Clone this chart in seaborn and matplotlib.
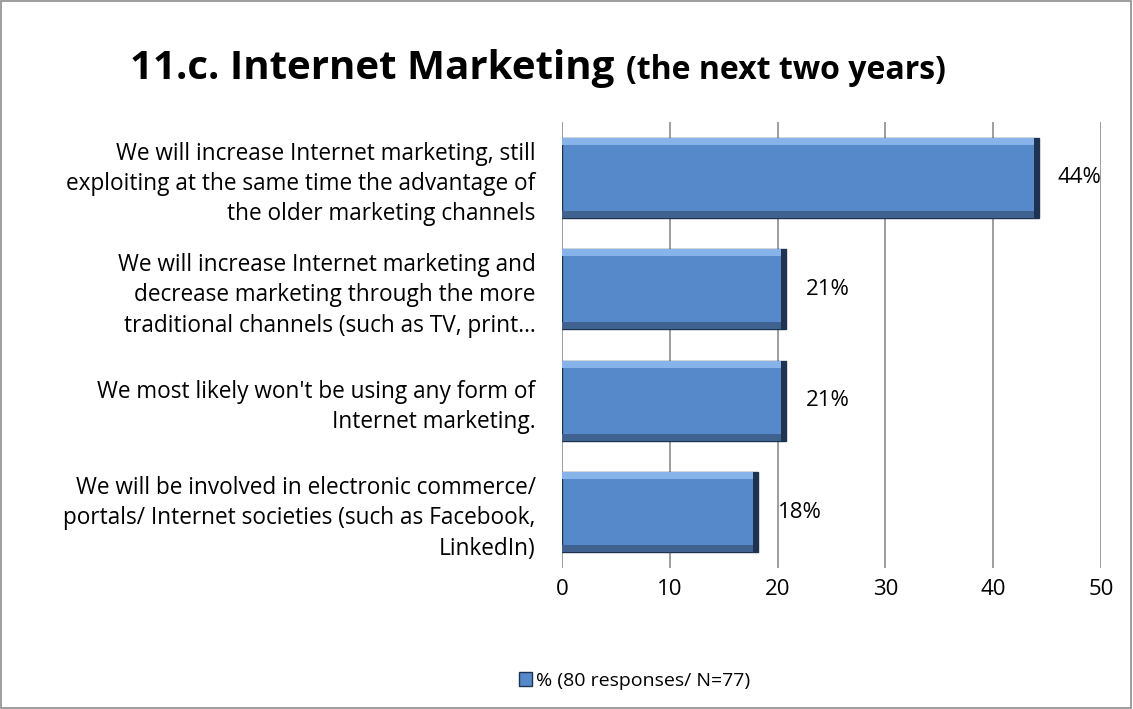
import pandas as pd
import matplotlib.pyplot as plt
import seaborn as sns
from matplotlib.patches import Rectangle

# data
answers = [
    "We will increase Internet marketing, still\nexploiting at the same time the advantage of\nthe older marketing channels",
    "We will increase Internet marketing and\ndecrease marketing through the more\ntraditional channels (such as TV, print…",
    "We most likely won't be using any form of\nInternet marketing.",
    "We will be involved in electronic commerce/\nportals/ Internet societies (such as Facebook,\nLinkedIn)",
]
percent = [44.2, 20.8, 20.8, 18.2]
pct_labels = ["44%", "21%", "21%", "18%"]
series_name = "% (80 responses/ N=77)"

df = pd.DataFrame({"answer": answers, "percent": percent})

sns.set_style("white")
plt.rcParams["font.family"] = ["Open Sans", "DejaVu Sans"]
plt.rcParams["text.color"] = "black"
plt.rcParams["xtick.color"] = "black"
plt.rcParams["ytick.color"] = "black"

fig = plt.figure(figsize=(11.33, 7.09), dpi=100)
ax = fig.add_axes([0.496, 0.199, 0.4758, 0.629])

bar_col = "#5589CA"
sns.barplot(data=df, y="answer", x="percent", color=bar_col, orient="h",
            width=0.72, saturation=1, edgecolor="#1F3350", linewidth=1.0, ax=ax,
            legend=False)

# bevel look: lighter top band, darker bottom / right bands
for p in list(ax.patches):
    x0, y0, w, hgt = p.get_x(), p.get_y(), p.get_width(), p.get_height()
    ax.add_patch(Rectangle((x0, y0), w, hgt * 0.09, facecolor="#86B4EA",
                           edgecolor="none", zorder=p.get_zorder() + 0.1))
    ax.add_patch(Rectangle((x0, y0 + hgt * 0.91), w, hgt * 0.09, facecolor="#40628F",
                           edgecolor="none", zorder=p.get_zorder() + 0.1))
    ax.add_patch(Rectangle((x0 + w - 0.45, y0), 0.45, hgt, facecolor="#1F3350",
                           edgecolor="none", zorder=p.get_zorder() + 0.2))

ax.set_xlim(0, 50)
ax.set_xticks(range(0, 51, 10))
ax.grid(axis="x", color="#8C8C8C", linewidth=1.2)
ax.set_axisbelow(True)
for s in ax.spines.values():
    s.set_visible(False)
ax.set_xlabel("")
ax.set_ylabel("")
ax.tick_params(axis="x", length=0, pad=8, labelsize=16)
ax.tick_params(axis="y", length=0, pad=19, labelsize=16.3)
for t in ax.get_yticklabels():
    t.set_horizontalalignment("right")
    t.set_multialignment("right")
    t.set_linespacing(1.35)

ax.bar_label(ax.containers[0], labels=pct_labels, padding=14, fontsize=16)

t1 = fig.text(0.115, 0.888, "11.c. Internet Marketing", fontsize=29, fontweight="bold")
fig.canvas.draw()
bb = t1.get_window_extent().transformed(fig.transFigure.inverted())
fig.text(bb.x1 + 0.01, 0.888, "(the next two years)", fontsize=23, fontweight="bold")

h = [Rectangle((0, 0), 1, 1, facecolor=bar_col, edgecolor="#1F3350")]
fig.legend(h, [series_name], loc="center", bbox_to_anchor=(0.56, 0.04),
           frameon=False, fontsize=14, handlelength=0.7, handleheight=0.7,
           handletextpad=0.2)

fig.patches.append(Rectangle((0.001, 0.001), 0.997, 0.997, transform=fig.transFigure,
                             fill=False, edgecolor="#8C8C8C", linewidth=1.2))

fig.savefig("out.png", dpi=100)
